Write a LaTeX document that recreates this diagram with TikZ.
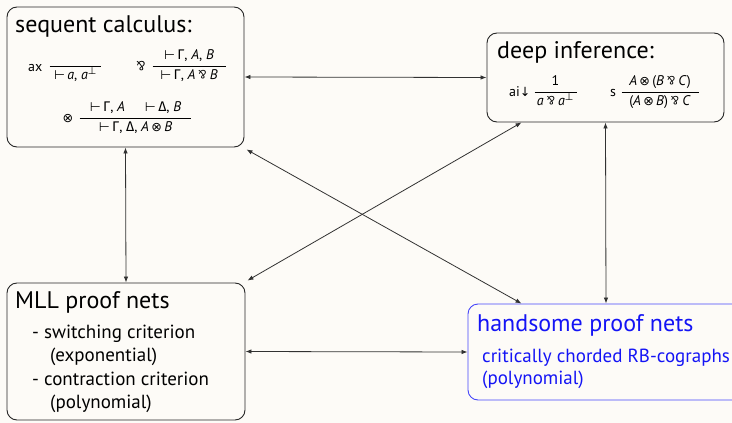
\documentclass[tikz,border=0pt]{standalone}
\usepackage{fontspec}
\setmainfont{PT Sans}
\newfontfamily\symf{DejaVu Sans}
\newfontfamily\grf{Fira Sans}
\usetikzlibrary{arrows.meta}
\definecolor{bg}{RGB}{253,251,247}
\definecolor{arr}{RGB}{50,50,50}
\definecolor{hblue}{RGB}{20,20,245}
\definecolor{hborder}{RGB}{70,70,250}
\newcommand\vdd{{\symf\scalebox{0.9}{⊢}}\,}
\newcommand\tns{\,{\symf\scalebox{0.9}{⊗}}\,}
\newcommand\prr{\,\raisebox{0.1ex}{\rotatebox[origin=c]{180}{\scalebox{0.85}{\&}}}\,}
\newcommand\bt{\textsuperscript{\symf ⊥}}
\newcommand\mi[1]{\textit{#1}}
\newcommand\Gm{{\grf Γ}}
\newcommand\Dl{{\grf Δ}}
\newcommand\rl[3]{$\displaystyle\frac{\makebox[#1]{#2}}{\makebox[#1]{#3}}$}
\tikzset{
  box/.style={draw=black!85, line width=0.9pt, rounded corners=10pt, fill=bg, inner sep=0pt},
  ttl/.style={anchor=base west, inner sep=0pt, font=\fontsize{24}{28}\selectfont},
  rlab/.style={anchor=base west, inner sep=0pt, font=\fontsize{14}{16}\selectfont},
  rfrac/.style={anchor=base, inner sep=0pt, font=\fontsize{14}{16}\selectfont},
  item/.style={anchor=base west, inner sep=0pt, font=\fontsize{19}{22}\selectfont},
  link/.style={draw=arr, line width=0.8pt, {Latex[length=6pt,width=4.5pt]}-{Latex[length=6pt,width=4.5pt]}}
}
\begin{document}
\begin{tikzpicture}[x=1pt,y=-1pt]
\fill[bg] (0,0) rectangle (732,423);
\useasboundingbox (0,0) rectangle (732,423);
\begin{scope}
\clip (0,0) rectangle (732,423);
% boxes
\node[box, minimum width=237pt, minimum height=140pt] (seq) at (125.5,77) {};
\node[box, minimum width=237pt, minimum height=89pt] (deep) at (605.5,77.5) {};
\node[box, minimum width=238pt, minimum height=137pt] (mll) at (126,351.5) {};
\node[box, draw=hborder, minimum width=276pt, minimum height=96pt] (hand) at (606,352) {};
% sequent calculus
\node[ttl] (seqt) at (15,32) {sequent calculus:};
\node[rlab] (lax) at (28,71) {ax};
\node[rfrac] (fax) at (75.5,69.5) {\rl{52pt}{}{\vdd\mi{a}, \mi{a}\bt}};
\node[rlab] (lpar) at (133,71) {\scalebox{1.1}{\prr}};
\node[rfrac] (fpar) at (189,69.5) {\rl{73pt}{\vdd\Gm, \mi{A}, \mi{B}}{\vdd\Gm, \mi{A}\prr\mi{B}}};
\node[rlab] (lten) at (60,122) {\tns};
\node[rfrac] (ften) at (135.5,121.5) {\rl{112pt}{\vdd\Gm, \mi{A}\hspace{20pt}\vdd\Dl, \mi{B}}{\vdd\Gm, \Dl, \mi{A}\tns\mi{B}}};
% deep inference
\node[ttl] (deept) at (497,58) {deep inference:};
\node[rlab] (lai) at (509,96) {ai{\symf\scalebox{0.9}{↓}}};
\node[rfrac] (fai) at (555.5,95.5) {\rl{42pt}{1}{\mi{a}\prr\mi{a}\bt}};
\node[rlab] (ls) at (610,96) {s};
\node[rfrac] (fs) at (660,95.5) {\rl{77pt}{\mi{A}\tns(\mi{B}\prr\mi{C})}{(\mi{A}\tns\mi{B})\prr\mi{C}}};
% MLL
\node[ttl] (mllt) at (15,308) {MLL proof nets};
\node[item] (m1) at (32,338) {- switching criterion};
\node[item] (m2) at (50,361) {(exponential)};
\node[item] (m3) at (32,385) {- contraction criterion};
\node[item] (m4) at (50,408) {(polynomial)};
% handsome
\node[ttl, text=hblue] (handt) at (477,331) {handsome proof nets};
\node[item, text=hblue] (h1) at (482,362) {critically chorded RB-cographs};
\node[item, text=hblue] (h2) at (482,384) {(polynomial)};
\end{scope}
% connectors
\draw[link] (seq.east) -- (deep.west);
\draw[link] (seq.south) -- (mll.north);
\draw[link] (deep.south) -- (hand.north);
\draw[link] (mll.east) -- (hand.west);
\coordinate (seqc) at ([shift={(2pt,-2pt)}]seq.south east);
\coordinate (handc) at ([xshift=54pt]hand.north west);
\draw[link] (seqc) -- (handc);
\coordinate (deepc) at ([xshift=35pt]deep.south west);
\coordinate (mllc) at ([shift={(2pt,2pt)}]mll.north east);
\draw[link] (deepc) -- (mllc);
\end{tikzpicture}
\end{document}
